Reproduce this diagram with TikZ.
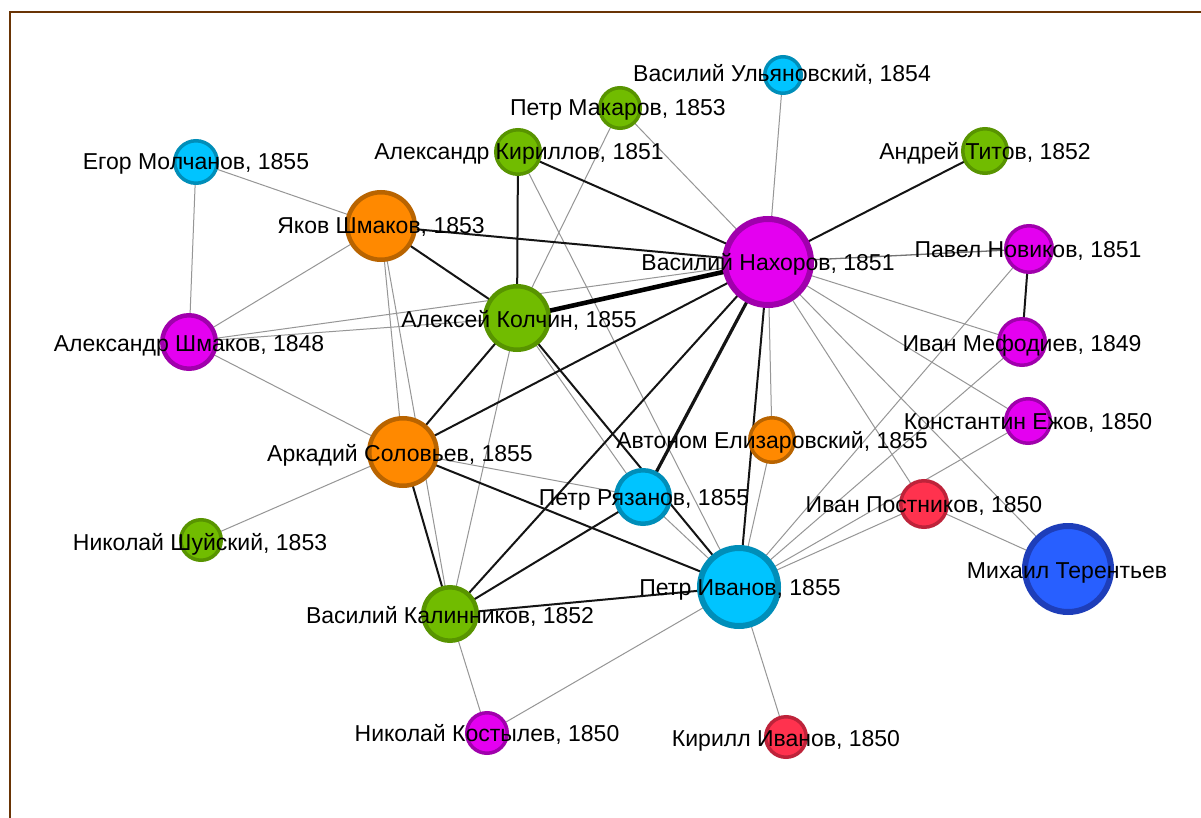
\documentclass[tikz,border=0pt]{standalone}
\usepackage{fontspec}
\setmainfont{Liberation Sans}
\usetikzlibrary{backgrounds}
\definecolor{gfill}{RGB}{113,188,0}\definecolor{gline}{RGB}{88,148,0}
\definecolor{cfill}{RGB}{0,196,255}\definecolor{cline}{RGB}{0,142,185}
\definecolor{ofill}{RGB}{255,137,0}\definecolor{oline}{RGB}{185,100,0}
\definecolor{mfill}{RGB}{228,0,240}\definecolor{mline}{RGB}{160,0,172}
\definecolor{rfill}{RGB}{255,50,78}\definecolor{rline}{RGB}{190,35,58}
\definecolor{bfill}{RGB}{40,95,255}\definecolor{bline}{RGB}{30,62,185}
\definecolor{frame}{RGB}{105,52,5}
\definecolor{thinc}{RGB}{150,150,150}
\definecolor{darkc}{RGB}{20,20,20}
\tikzset{
  vnode/.style={circle,inner sep=0pt,draw},
  gr/.style={fill=gfill,draw=gline},
  cy/.style={fill=cfill,draw=cline},
  og/.style={fill=ofill,draw=oline},
  mg/.style={fill=mfill,draw=mline},
  rd/.style={fill=rfill,draw=rline},
  bl/.style={fill=bfill,draw=bline},
  sm/.style={line width=3.5pt},
  md/.style={line width=4.5pt},
  bg/.style={line width=6pt},
  lbl/.style={anchor=base,inner sep=0pt,font=\fontsize{23}{26}\selectfont,text=black},
  thin/.style={draw=thinc,line width=1pt},
  thinb/.style={draw={rgb,255:red,115;green,115;blue,115},line width=1.3pt},
  dark/.style={draw=darkc,line width=2pt},
  thick/.style={draw=darkc,line width=3.2pt},
  vthick/.style={draw=black,line width=4.6pt},
}
\begin{document}
\begin{tikzpicture}[x=1pt,y=-1pt]
\useasboundingbox (0,0) rectangle (1201,818);

% nodes
\node[vnode,cy,sm,minimum size=42.5pt] (egor)  at (196,162) {};
\node[vnode,og,md,minimum size=67.5pt] (yakov) at (381,226) {};
\node[vnode,gr,sm,minimum size=44.5pt] (kiril) at (518,152) {};
\node[vnode,gr,sm,minimum size=40.5pt] (makar) at (620,108) {};
\node[vnode,cy,sm,minimum size=36.5pt] (ulyan) at (783,75) {};
\node[vnode,gr,sm,minimum size=44.5pt] (titov) at (985,151) {};
\node[vnode,mg,bg,minimum size=86pt] (nakh)  at (768,262) {};
\node[vnode,mg,sm,minimum size=46.5pt] (novik) at (1029,249) {};
\node[vnode,mg,sm,minimum size=46.5pt] (mefod) at (1022,342) {};
\node[vnode,mg,sm,minimum size=44.5pt] (ezhov) at (1028,421) {};
\node[vnode,rd,sm,minimum size=46.5pt] (postn) at (924,504) {};
\node[vnode,bl,bg,minimum size=86pt] (teren) at (1068,569) {};
\node[vnode,cy,bg,minimum size=78pt] (pivan) at (739,587) {};
\node[vnode,rd,sm,minimum size=40.5pt] (kivan) at (786,737) {};
\node[vnode,mg,sm,minimum size=40.5pt] (kost)  at (487,733) {};
\node[vnode,gr,md,minimum size=53.5pt] (kalin) at (450,614) {};
\node[vnode,gr,sm,minimum size=40.5pt] (shuis) at (201,540) {};
\node[vnode,og,md,minimum size=67.5pt] (solov) at (403,452) {};
\node[vnode,mg,md,minimum size=53.5pt] (ashm)  at (189,342) {};
\node[vnode,gr,md,minimum size=63.5pt] (kolch) at (517,318) {};
\node[vnode,cy,md,minimum size=53.5pt] (ryaz)  at (643,497) {};
\node[vnode,og,sm,minimum size=44.5pt] (eliz)  at (772,440) {};

% edges and frame
\begin{scope}[on background layer]
\fill[white] (0,0) rectangle (1201,818);
\draw[frame,line width=2.2pt] (1201,12) -- (10,12) -- (10,818);
\foreach \a/\b in {nakh/makar,nakh/ulyan,nakh/mefod,nakh/ezhov,nakh/postn,nakh/teren,nakh/eliz,nakh/ashm,
  kolch/makar,kolch/ashm,kolch/ryaz,kolch/kalin,kiril/pivan,
  yakov/egor,yakov/ashm,yakov/solov,yakov/kalin,egor/ashm,
  solov/ashm,solov/shuis,solov/ryaz,kalin/kost,
  pivan/kost,pivan/kivan,pivan/eliz,pivan/novik,pivan/mefod,pivan/ezhov,pivan/postn,pivan/ryaz,
  postn/teren}
  \draw[thin] (\a.center) -- (\b.center);
\draw[thinb] (nakh.center) -- (novik.center);
\foreach \a/\b in {nakh/kiril,nakh/titov,nakh/yakov,nakh/pivan,nakh/solov,nakh/kalin,
  kolch/kiril,kolch/yakov,kolch/solov,kolch/pivan,solov/kalin,solov/pivan,
  kalin/ryaz,kalin/pivan,novik/mefod}
  \draw[dark] (\a.center) -- (\b.center);
\draw[thick] (nakh.center) -- (ryaz.center);
\draw[vthick] (nakh.center) -- (kolch.center);
\end{scope}

% labels
\node[lbl] (egor-l)  at (196,170) {Егор Молчанов, 1855};
\node[lbl] (yakov-l) at (381,234) {Яков Шмаков, 1853};
\node[lbl] (kiril-l) at (519,160) {Александр Кириллов, 1851};
\node[lbl] (makar-l) at (618,116) {Петр Макаров, 1853};
\node[lbl] (ulyan-l) at (782,82) {Василий Ульяновский, 1854};
\node[lbl] (titov-l) at (985,160) {Андрей Титов, 1852};
\node[lbl] (nakh-l)  at (768,270) {Василий Нахоров, 1851};
\node[lbl] (novik-l) at (1028,258) {Павел Новиков, 1851};
\node[lbl] (mefod-l) at (1022,351) {Иван Мефодиев, 1849};
\node[lbl] (ezhov-l) at (1028,429) {Константин Ежов, 1850};
\node[lbl] (postn-l) at (924,512) {Иван Постников, 1850};
\node[lbl] (teren-l) at (1067,578) {Михаил Терентьев};
\node[lbl] (pivan-l) at (740,595) {Петр Иванов, 1855};
\node[lbl] (kivan-l) at (786,746) {Кирилл Иванов, 1850};
\node[lbl] (kost-l)  at (487,741) {Николай Костылев, 1850};
\node[lbl] (kalin-l) at (450,623) {Василий Калинников, 1852};
\node[lbl] (shuis-l) at (200,550) {Николай Шуйский, 1853};
\node[lbl] (solov-l) at (400,461) {Аркадий Соловьев, 1855};
\node[lbl] (ashm-l)  at (189,351) {Александр Шмаков, 1848};
\node[lbl] (kolch-l) at (519,327) {Алексей Колчин, 1855};
\node[lbl] (ryaz-l)  at (644,505) {Петр Рязанов, 1855};
\node[lbl] (eliz-l)  at (772,448) {Автоном Елизаровский, 1855};
\end{tikzpicture}
\end{document}
